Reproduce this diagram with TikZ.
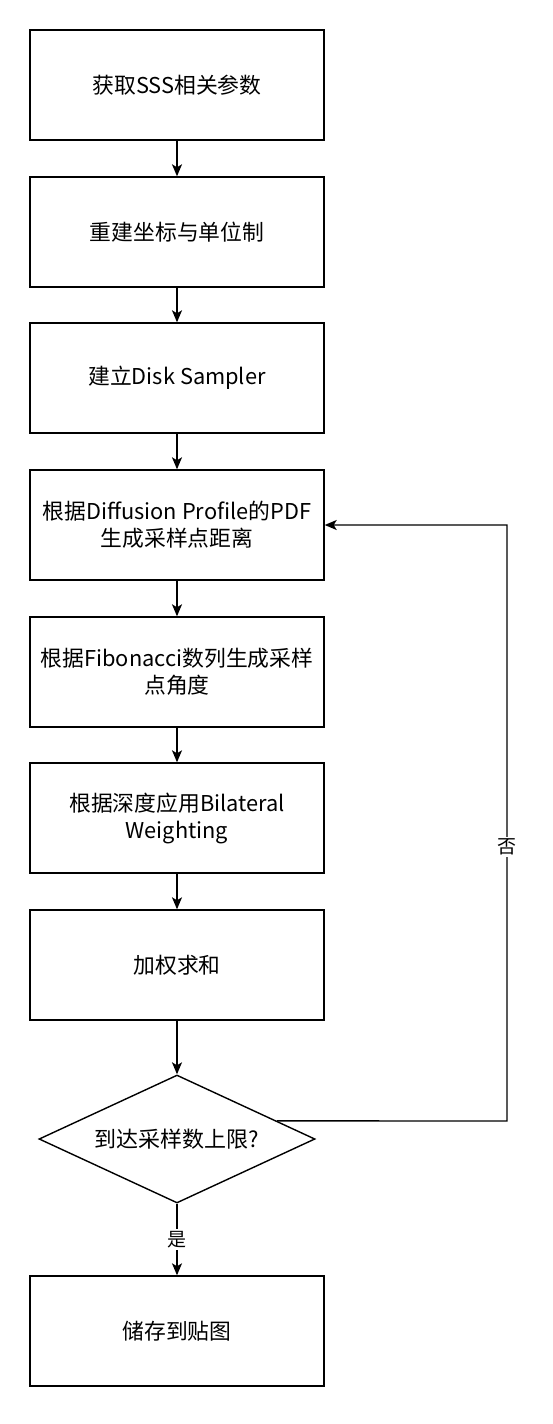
\documentclass[tikz,border=0pt]{standalone}
\usepackage{fontspec}
\setmainfont{Noto Sans CJK SC}
\usepackage{tikz}
\usetikzlibrary{shapes.geometric, arrows.meta, calc}
\tikzstyle{process} = [rectangle, draw, line width=1.4pt, minimum width=294pt, minimum height=110pt, align=center, font=\fontsize{21.8}{27}\selectfont]
\tikzstyle{decision} = [diamond, draw, line width=1.4pt, aspect=2.15, minimum width=276pt, minimum height=128pt, inner sep=0pt, font=\fontsize{22}{27}\selectfont]
\tikzstyle{arrow} = [line width=1.4pt,->,>={Stealth[length=12pt,width=10pt,inset=3pt]}]
\tikzstyle{answer} = [fill=white, inner sep=2pt, font=\fontsize{19}{23}\selectfont]

\begin{document}
\begin{tikzpicture}[x=1pt,y=-1pt]
            \useasboundingbox (0,0) rectangle (552,1424);
            \node[process] (fetch)   at (177,85)   {获取SSS相关参数};
            \node[process] (rebuild) at (177,232)  {重建坐标与单位制};
            \node[process] (sampler) at (177,378)  {建立Disk Sampler};
            \node[process] (dist)    at (177,525)  {根据Diffusion Profile的PDF\\生成采样点距离};
            \node[process] (angle)   at (177,672)  {根据Fibonacci数列生成采样\\点角度};
            \node[process] (bilat)   at (177,818)  {根据深度应用Bilateral\\Weighting};
            \node[process] (wsum)    at (177,965)  {加权求和};
            \node[decision] (check)  at (177,1139) {到达采样数上限?};
            \node[process] (store)   at (177,1331) {储存到贴图};
            \draw [arrow] (fetch) -- (rebuild);
            \draw [arrow] (rebuild) -- (sampler);
            \draw [arrow] (sampler) -- (dist);
            \draw [arrow] (dist) -- (angle);
            \draw [arrow] (angle) -- (bilat);
            \draw [arrow] (bilat) -- (wsum);
            \draw [arrow] (wsum) -- (check);
            \draw [arrow] (check) -- node[answer] {是} (store);
            % loop back when the sample count is not reached
            \coordinate (exit) at ($(check.east)!0.28!(check.north)$);
            \draw [arrow] (exit) -- (507,1121) |- node[answer, pos=0.23] {否} (dist.east);
        \end{tikzpicture}
\end{document}
